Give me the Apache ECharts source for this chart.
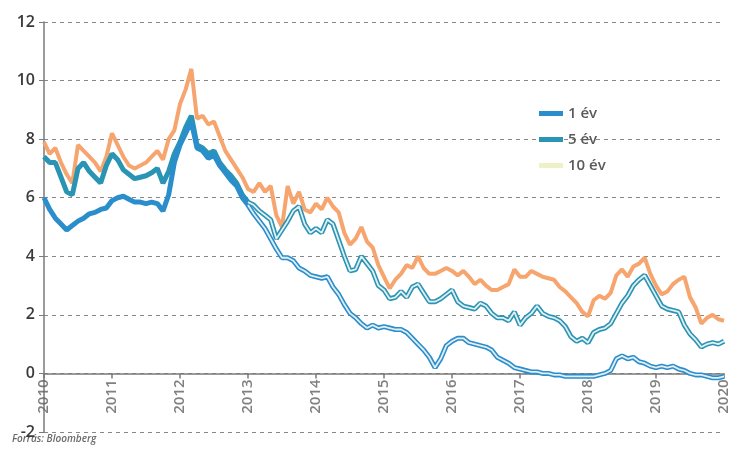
<!DOCTYPE html>
<html>
<head>
<meta charset="utf-8">
<script src="https://cdn.jsdelivr.net/npm/echarts@6/dist/echarts.min.js"></script>
<style>
  html, body { margin: 0; padding: 0; background: #fff; }
  #chart { width: 734px; height: 449px; }
</style>
</head>
<body>
<div id="chart"></div>
<script>
// Monthly government bond yields (%), January 2010 - January 2020
const startYear = 2010;
const stepsPerYear = 12;

const yield1 = [
  6.0, 5.6, 5.3, 5.1, 4.9, 5.05, 5.2, 5.3, 5.45, 5.5, 5.6, 5.65,
  5.9, 6.0, 6.05, 5.95, 5.85, 5.85, 5.8, 5.85, 5.8, 5.55, 6.1, 7.2,
  7.8, 8.2, 8.6, 7.7, 7.6, 7.35, 7.45, 7.1, 6.85, 6.6, 6.4, 6.0,
  5.75, 5.45, 5.2, 4.95, 4.6, 4.25, 3.95, 3.95, 3.85, 3.6, 3.5, 3.35,
  3.3, 3.25, 3.3, 2.95, 2.7, 2.35, 2.05, 1.9, 1.7, 1.55, 1.65, 1.55,
  1.6, 1.55, 1.5, 1.5, 1.4, 1.2, 1.0, 0.8, 0.55, 0.2, 0.5, 0.95,
  1.1, 1.2, 1.2, 1.05, 1.0, 0.95, 0.9, 0.8, 0.55, 0.45, 0.35, 0.2,
  0.15, 0.1, 0.05, 0.05, 0.0, 0.0, -0.05, -0.05, -0.1, -0.1, -0.1, -0.1,
  -0.1, -0.1, -0.05, 0.0, 0.1, 0.5, 0.6, 0.5, 0.55, 0.4, 0.35, 0.25,
  0.2, 0.25, 0.2, 0.25, 0.15, 0.1, 0.0, -0.05, -0.05, -0.1, -0.15, -0.15,
  -0.1
];

const yield5 = [
  7.4, 7.2, 7.2, 6.7, 6.2, 6.1, 7.0, 7.2, 6.9, 6.7, 6.5, 7.1,
  7.5, 7.3, 6.95, 6.8, 6.65, 6.7, 6.75, 6.85, 7.0, 6.5, 6.9, 7.5,
  7.9, 8.4, 8.8, 7.8, 7.7, 7.5, 7.6, 7.2, 6.95, 6.75, 6.5, 6.1,
  5.85, 5.75, 5.55, 5.4, 5.25, 4.6, 4.9, 5.2, 5.55, 5.7, 5.1, 4.8,
  4.95, 4.8, 5.25, 5.1, 4.55, 4.0, 3.5, 3.55, 4.0, 3.75, 3.5, 3.0,
  2.85, 2.55, 2.6, 2.8, 2.6, 2.95, 3.05, 2.75, 2.45, 2.45, 2.55, 2.7,
  2.85, 2.45, 2.3, 2.25, 2.2, 2.4, 2.3, 2.05, 1.9, 1.9, 1.8, 2.1,
  1.65, 1.9, 2.05, 2.3, 2.05, 1.95, 1.9, 1.8, 1.6, 1.25, 1.1, 1.2,
  1.05, 1.4, 1.5, 1.55, 1.7, 2.05, 2.4, 2.65, 3.0, 3.2, 3.35, 3.0,
  2.65, 2.3, 2.2, 2.15, 2.1, 1.65, 1.35, 1.15, 0.9, 1.0, 1.05, 1.0,
  1.1
];

const yield10 = [
  7.9, 7.5, 7.7, 7.2, 6.8, 6.5, 7.8, 7.6, 7.4, 7.2, 6.9, 7.4,
  8.2, 7.8, 7.4, 7.1, 7.0, 7.1, 7.2, 7.4, 7.6, 7.3, 8.0, 8.3,
  9.2, 9.7, 10.4, 8.7, 8.8, 8.5, 8.6, 8.1, 7.6, 7.3, 7.0, 6.7,
  6.3, 6.2, 6.5, 6.2, 6.4, 5.4, 5.0, 6.4, 5.8, 6.2, 5.6, 5.5,
  5.8, 5.6, 6.0, 5.7, 5.5, 4.8, 4.4, 4.6, 5.0, 4.5, 4.3, 3.7,
  3.3, 2.9, 3.2, 3.4, 3.7, 3.6, 4.0, 3.6, 3.4, 3.4, 3.5, 3.6,
  3.5, 3.35, 3.5, 3.3, 3.05, 3.2, 3.0, 2.85, 2.85, 2.95, 3.05, 3.55,
  3.3, 3.3, 3.5, 3.4, 3.3, 3.25, 3.2, 2.95, 2.8, 2.6, 2.4, 2.1,
  1.95, 2.5, 2.65, 2.55, 2.75, 3.35, 3.55, 3.3, 3.65, 3.75, 3.95, 3.4,
  3.0, 2.7, 2.8, 3.05, 3.2, 3.3, 2.6, 2.25, 1.7, 1.9, 2.0, 1.85,
  1.8
];

const yearTicks = [2010, 2011, 2012, 2013, 2014, 2015, 2016, 2017, 2018, 2019, 2020];

// month index -> fractional year on the time axis
const toPoints = (arr, from = 0) =>
  arr.map((v, i) => [startYear + i / stepsPerYear, v]).slice(from);

const blue1 = '#2a8dcc';
const blue5 = '#2994b3';
const orange = '#f6a56f';
const coreIdx = 3 * stepsPerYear; // from 2013 the blue lines print hollow

const chart = echarts.init(document.getElementById('chart'), null, { renderer: 'canvas' });

chart.setOption({
  animation: false,
  backgroundColor: '#ffffff',
  textStyle: { fontFamily: 'Open Sans' },
  grid: { left: 44, right: 10, top: 22, bottom: 17, containLabel: false, outerBoundsMode: 'none' },
  legend: {
    data: [
      { name: '1 év', itemStyle: { color: blue1 } },
      { name: '5 év', itemStyle: { color: blue5 } },
      { name: '10 év', itemStyle: { color: '#eef1c6' } }
    ],
    orient: 'vertical',
    left: 534,
    top: 101,
    icon: 'rect',
    itemWidth: 24,
    itemHeight: 5,
    itemGap: 11,
    textStyle: { fontSize: 15, fontWeight: 600, color: '#5a5a5a', fontFamily: 'Open Sans' }
  },
  xAxis: {
    type: 'value',
    min: 2010,
    max: 2020,
    interval: 1,
    axisLine: { onZero: true, lineStyle: { color: '#7a7a7a', width: 1.5 } },
    axisTick: { show: true, length: 5, lineStyle: { color: '#7a7a7a', width: 1.5 } },
    axisLabel: { show: false },
    splitLine: { show: false }
  },
  yAxis: {
    type: 'value',
    min: -2,
    max: 12,
    interval: 2,
    axisLine: { show: true, onZero: false, lineStyle: { color: '#7a7a7a', width: 1.5 } },
    axisTick: { show: true, length: 5, lineStyle: { color: '#7a7a7a' } },
    axisLabel: { fontSize: 16, fontWeight: 600, color: '#3a3a3a', margin: 9 },
    splitLine: {
      show: true,
      lineStyle: { color: '#6a6a6a', width: 1, type: [4, 4], opacity: 0.8 }
    }
  },
  series: [
    {
      name: '10 év', type: 'line', data: toPoints(yield10), showSymbol: false, symbol: 'none',
      lineStyle: { color: orange, width: 4 }, itemStyle: { color: orange }, z: 2
    },
    {
      name: '5 év', type: 'line', data: toPoints(yield5), showSymbol: false, symbol: 'none',
      lineStyle: { color: blue5, width: 5 }, itemStyle: { color: blue5 }, z: 3
    },
    {
      name: '1 év', type: 'line', data: toPoints(yield1), showSymbol: false, symbol: 'none',
      lineStyle: { color: blue1, width: 5 }, itemStyle: { color: blue1 }, z: 4
    },
    // light core of the blue lines after 2013
    {
      name: '5 év core', type: 'line', data: toPoints(yield5, coreIdx), showSymbol: false, symbol: 'none',
      silent: true, lineStyle: { color: '#e3eef2', width: 1.8 }, z: 5
    },
    {
      name: '1 év core', type: 'line', data: toPoints(yield1, coreIdx), showSymbol: false, symbol: 'none',
      silent: true, lineStyle: { color: '#e3eef2', width: 1.8 }, z: 5
    },
    // year labels hanging under the zero line, read bottom-to-top
    {
      name: 'years', type: 'scatter', silent: true, symbolSize: 0,
      data: yearTicks.map(y => [y, 0]),
      label: {
        show: true,
        position: 'bottom',
        distance: 6,
        rotate: 90,
        align: 'right',
        verticalAlign: 'middle',
        fontSize: 15,
        fontWeight: 600,
        color: '#606060',
        fontFamily: 'Open Sans',
        formatter: p => String(p.value[0])
      },
      z: 6
    }
  ],
  graphic: [
    {
      type: 'text',
      left: 12,
      top: 434,
      style: {
        text: 'Forrás: Bloomberg',
        fontSize: 10,
        fontStyle: 'italic',
        fontWeight: 600,
        fill: '#6a6a6a',
        fontFamily: 'Open Sans'
      }
    }
  ]
});
</script>
</body>
</html>
